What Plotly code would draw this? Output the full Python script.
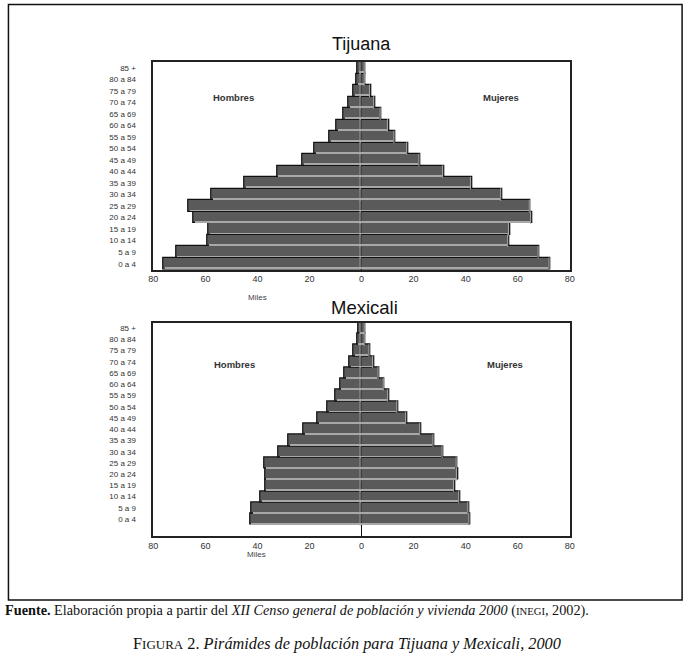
import plotly.graph_objects as go

W, H = 694, 662

grupos = ["0 a 4", "5 a 9", "10 a 14", "15 a 19", "20 a 24", "25 a 29", "30 a 34",
          "35 a 39", "40 a 44", "45 a 49", "50 a 54", "55 a 59", "60 a 64",
          "65 a 69", "70 a 74", "75 a 79", "80 a 84", "85 +"]

tij_hombres = [76.0, 71.3, 59.1, 58.7, 64.5, 66.5, 57.8, 45.0, 32.5, 22.8, 18.1,
               12.2, 9.8, 7.1, 5.1, 3.2, 1.9, 1.5]
tij_mujeres = [72.6, 68.4, 56.7, 57.0, 65.5, 65.0, 54.0, 42.4, 31.7, 22.6, 17.9,
               13.0, 10.5, 7.7, 5.2, 3.6, 1.6, 1.6]
mex_hombres = [42.9, 42.3, 38.8, 37.1, 37.1, 37.3, 31.8, 28.0, 22.4, 16.8, 13.2,
               9.9, 8.3, 6.5, 4.7, 3.0, 1.8, 1.1]
mex_mujeres = [41.8, 41.4, 37.9, 35.9, 37.0, 36.9, 31.5, 28.0, 22.9, 17.5, 14.1,
               10.6, 8.9, 6.9, 4.8, 3.4, 1.6, 1.6]

xticks = [-80, -60, -40, -20, 0, 20, 40, 60, 80]
xtick_text = ["80", "60", "40", "20", "0", "20", "40", "60", "80"]

BAR = "#5a5a5a"
HL = "#a8a8a8"
SANS = "Liberation Sans, Arial, sans-serif"
SERIF = "Liberation Serif, Times New Roman, serif"

fig = go.Figure()

def add_pyr(hombres, mujeres, xa, ya):
    # main bars
    for vals, sign in ((hombres, -1), (mujeres, 1)):
        fig.add_trace(go.Bar(y=grupos, x=[sign * v for v in vals], orientation="h",
                             marker=dict(color=BAR, line=dict(color="#111", width=1.2)),
                             xaxis=xa, yaxis=ya, showlegend=False, hoverinfo="skip"))
    # bevel highlight along the bottom of each bar
    for vals, sign in ((hombres, -1), (mujeres, 1)):
        fig.add_trace(go.Bar(y=grupos, x=[sign * max(v - 0.7, 0) for v in vals],
                             orientation="h", width=0.07, offset=-0.41,
                             marker=dict(color=HL, line=dict(width=0)),
                             xaxis=xa, yaxis=ya, showlegend=False, hoverinfo="skip"))
    # bevel highlight at the right end of each bar
    fig.add_trace(go.Scatter(y=grupos, x=[v - 0.55 for v in mujeres], mode="markers",
                             marker=dict(symbol="line-ns-open", size=9, color=HL,
                                         line=dict(color=HL, width=1)),
                             xaxis=xa, yaxis=ya, showlegend=False, hoverinfo="skip"))
    fig.add_trace(go.Scatter(y=grupos, x=[-0.55 for _ in hombres], mode="markers",
                             marker=dict(symbol="line-ns-open", size=9, color=HL,
                                         line=dict(color=HL, width=1)),
                             xaxis=xa, yaxis=ya, showlegend=False, hoverinfo="skip"))

add_pyr(tij_hombres, tij_mujeres, "x", "y")
add_pyr(mex_hombres, mex_mujeres, "x2", "y2")

xdom = [150.5 / W, 573 / W]
common_x = dict(range=[-80, 80], tickvals=xticks, ticktext=xtick_text,
                showgrid=False, zeroline=True, zerolinecolor="#111", zerolinewidth=1.2,
                showline=True, linecolor="#222", linewidth=1.5, mirror=True,
                ticks="", tickfont=dict(family=SANS, size=9, color="#333"),
                fixedrange=True)
common_y = dict(type="category", categoryorder="array", categoryarray=grupos,
                showgrid=False, showline=True, linecolor="#222", linewidth=1.5,
                mirror=True, ticks="", ticklabelstandoff=14,
                tickfont=dict(family=SANS, size=8, color="#333"), fixedrange=True)

fig.update_layout(
    width=W, height=H,
    margin=dict(l=0, r=0, t=0, b=0),
    paper_bgcolor="white", plot_bgcolor="white",
    barmode="overlay", bargap=0,
    xaxis=dict(domain=xdom, anchor="y", **common_x),
    yaxis=dict(domain=[1 - 269.5 / H, 1 - 62 / H], anchor="x", range=[-0.5, 17.5], **common_y),
    xaxis2=dict(domain=xdom, anchor="y2", **common_x),
    yaxis2=dict(domain=[1 - 536 / H, 1 - 322.5 / H], anchor="x2", range=[-1.5, 17.5], **common_y),
)

def px_ann(text, x, y, size, bold=False, color="#222", family=SANS, xanchor="center"):
    fig.add_annotation(text=("<b>%s</b>" % text) if bold else text,
                       x=x / W, y=1 - y / H, xref="paper", yref="paper",
                       showarrow=False, xanchor=xanchor, yanchor="middle",
                       font=dict(family=family, size=size, color=color))

px_ann("Tijuana", 362, 44, 18, color="#111")
px_ann("Mexicali", 365, 307, 18.5, color="#111")
px_ann("Hombres", 232, 98, 9.5, bold=True, color="#333")
px_ann("Mujeres", 503, 98, 9.5, bold=True, color="#333")
px_ann("Hombres", 233, 364, 9.5, bold=True, color="#333")
px_ann("Mujeres", 507, 364, 9.5, bold=True, color="#333")
px_ann("Miles", 256, 297, 8, color="#444")
px_ann("Miles", 255, 554, 8, color="#444")

fig.add_annotation(
    text="<b>Fuente.</b> Elaboración propia a partir del <i>XII Censo general de población y vivienda 2000</i> "
         "(<span style='font-size:10.7px'>INEGI</span>, 2002).",
    x=-2 / W, y=1 - 610 / H, xref="paper", yref="paper", showarrow=False,
    xanchor="left", yanchor="middle", font=dict(family=SERIF, size=14.25, color="#111"))

fig.add_annotation(
    text="F<span style='font-size:13px'>IGURA</span> 2. <i>Pirámides de población para Tijuana y Mexicali, 2000</i>",
    x=347 / W, y=1 - 643 / H, xref="paper", yref="paper", showarrow=False,
    xanchor="center", yanchor="middle", font=dict(family=SERIF, size=16.3, color="#111"))

fig.add_shape(type="rect", xref="paper", yref="paper",
              x0=3.5 / W, x1=687 / W, y0=1 - 600 / H, y1=1 - 4.5 / H,
              line=dict(color="#111", width=1.5), fillcolor="rgba(0,0,0,0)")

fig.write_html("out.html", config={"displayModeBar": False},
               post_script="document.body.style.margin='0px';document.body.style.overflow='hidden';")
